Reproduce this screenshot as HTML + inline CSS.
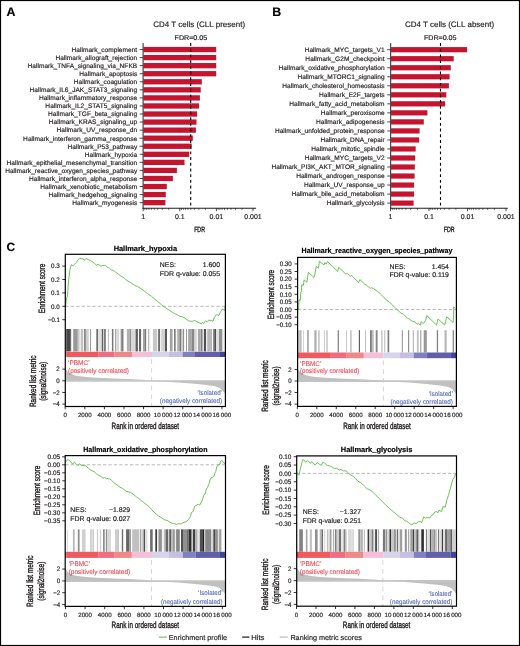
<!DOCTYPE html>
<html><head><meta charset="utf-8"><style>
html,body{margin:0;padding:0;background:#fff;width:520px;height:646px;overflow:hidden}
svg{display:block;will-change:transform}
text{font-family:"Liberation Sans", sans-serif;text-rendering:geometricPrecision}
</style></head><body>
<svg xmlns="http://www.w3.org/2000/svg" width="520" height="646" viewBox="0 0 520 646">
<rect x="0" y="0" width="520" height="646" fill="#fff"/>
<text transform="translate(6.60 16.40) scale(0.10000 0.10000)" font-size="124.0" text-anchor="start" fill="#000" font-weight="bold" stroke="#000" stroke-width="1.80" >A</text>
<text transform="translate(272.30 16.30) scale(0.10000 0.10000)" font-size="124.0" text-anchor="start" fill="#000" font-weight="bold" stroke="#000" stroke-width="1.80" >B</text>
<text transform="translate(6.60 251.40) scale(0.10000 0.10000)" font-size="120.0" text-anchor="start" fill="#000" font-weight="bold" stroke="#000" stroke-width="1.80" >C</text>
<rect x="143.50" y="46.90" width="72.70" height="5.30" fill="#c5142f"/>
<line x1="139.60" y1="49.55" x2="143.10" y2="49.55" stroke="#231f20" stroke-width="0.8" />
<text transform="translate(137.20 51.90) scale(0.10000 0.10000)" font-size="66.0" text-anchor="end" fill="#231f20" stroke="#231f20" stroke-width="1.80" >Hallmark_complement</text>
<rect x="143.50" y="54.96" width="72.70" height="5.30" fill="#c5142f"/>
<line x1="139.60" y1="57.61" x2="143.10" y2="57.61" stroke="#231f20" stroke-width="0.8" />
<text transform="translate(137.20 59.96) scale(0.10000 0.10000)" font-size="66.0" text-anchor="end" fill="#231f20" stroke="#231f20" stroke-width="1.80" >Hallmark_allograft_rejection</text>
<rect x="143.50" y="63.02" width="72.70" height="5.30" fill="#c5142f"/>
<line x1="139.60" y1="65.67" x2="143.10" y2="65.67" stroke="#231f20" stroke-width="0.8" />
<text transform="translate(137.20 68.02) scale(0.10000 0.10000)" font-size="66.0" text-anchor="end" fill="#231f20" stroke="#231f20" stroke-width="1.80" >Hallmark_TNFA_signaling_via_NFKB</text>
<rect x="143.50" y="71.07" width="72.70" height="5.30" fill="#c5142f"/>
<line x1="139.60" y1="73.72" x2="143.10" y2="73.72" stroke="#231f20" stroke-width="0.8" />
<text transform="translate(137.20 76.07) scale(0.10000 0.10000)" font-size="66.0" text-anchor="end" fill="#231f20" stroke="#231f20" stroke-width="1.80" >Hallmark_apoptosis</text>
<rect x="143.50" y="79.13" width="58.30" height="5.30" fill="#c5142f"/>
<line x1="139.60" y1="81.78" x2="143.10" y2="81.78" stroke="#231f20" stroke-width="0.8" />
<text transform="translate(137.20 84.13) scale(0.10000 0.10000)" font-size="66.0" text-anchor="end" fill="#231f20" stroke="#231f20" stroke-width="1.80" >Hallmark_coagulation</text>
<rect x="143.50" y="87.19" width="57.20" height="5.30" fill="#c5142f"/>
<line x1="139.60" y1="89.84" x2="143.10" y2="89.84" stroke="#231f20" stroke-width="0.8" />
<text transform="translate(137.20 92.19) scale(0.10000 0.10000)" font-size="66.0" text-anchor="end" fill="#231f20" stroke="#231f20" stroke-width="1.80" >Hallmark_IL6_JAK_STAT3_signaling</text>
<rect x="143.50" y="95.25" width="56.40" height="5.30" fill="#c5142f"/>
<line x1="139.60" y1="97.90" x2="143.10" y2="97.90" stroke="#231f20" stroke-width="0.8" />
<text transform="translate(137.20 100.25) scale(0.10000 0.10000)" font-size="66.0" text-anchor="end" fill="#231f20" stroke="#231f20" stroke-width="1.80" >Hallmark_inflammatory_response</text>
<rect x="143.50" y="103.31" width="55.50" height="5.30" fill="#c5142f"/>
<line x1="139.60" y1="105.96" x2="143.10" y2="105.96" stroke="#231f20" stroke-width="0.8" />
<text transform="translate(137.20 108.31) scale(0.10000 0.10000)" font-size="66.0" text-anchor="end" fill="#231f20" stroke="#231f20" stroke-width="1.80" >Hallmark_IL2_STAT5_signaling</text>
<rect x="143.50" y="111.36" width="53.60" height="5.30" fill="#c5142f"/>
<line x1="139.60" y1="114.01" x2="143.10" y2="114.01" stroke="#231f20" stroke-width="0.8" />
<text transform="translate(137.20 116.36) scale(0.10000 0.10000)" font-size="66.0" text-anchor="end" fill="#231f20" stroke="#231f20" stroke-width="1.80" >Hallmark_TGF_beta_signaling</text>
<rect x="143.50" y="119.42" width="53.00" height="5.30" fill="#c5142f"/>
<line x1="139.60" y1="122.07" x2="143.10" y2="122.07" stroke="#231f20" stroke-width="0.8" />
<text transform="translate(137.20 124.42) scale(0.10000 0.10000)" font-size="66.0" text-anchor="end" fill="#231f20" stroke="#231f20" stroke-width="1.80" >Hallmark_KRAS_signaling_up</text>
<rect x="143.50" y="127.48" width="52.40" height="5.30" fill="#c5142f"/>
<line x1="139.60" y1="130.13" x2="143.10" y2="130.13" stroke="#231f20" stroke-width="0.8" />
<text transform="translate(137.20 132.48) scale(0.10000 0.10000)" font-size="66.0" text-anchor="end" fill="#231f20" stroke="#231f20" stroke-width="1.80" >Hallmark_UV_response_dn</text>
<rect x="143.50" y="135.54" width="49.30" height="5.30" fill="#c5142f"/>
<line x1="139.60" y1="138.19" x2="143.10" y2="138.19" stroke="#231f20" stroke-width="0.8" />
<text transform="translate(137.20 140.54) scale(0.10000 0.10000)" font-size="66.0" text-anchor="end" fill="#231f20" stroke="#231f20" stroke-width="1.80" >Hallmark_interferon_gamma_response</text>
<rect x="143.50" y="143.60" width="48.20" height="5.30" fill="#c5142f"/>
<line x1="139.60" y1="146.25" x2="143.10" y2="146.25" stroke="#231f20" stroke-width="0.8" />
<text transform="translate(137.20 148.60) scale(0.10000 0.10000)" font-size="66.0" text-anchor="end" fill="#231f20" stroke="#231f20" stroke-width="1.80" >Hallmark_P53_pathway</text>
<rect x="143.50" y="151.65" width="45.70" height="5.30" fill="#c5142f"/>
<line x1="139.60" y1="154.30" x2="143.10" y2="154.30" stroke="#231f20" stroke-width="0.8" />
<text transform="translate(137.20 156.65) scale(0.10000 0.10000)" font-size="66.0" text-anchor="end" fill="#231f20" stroke="#231f20" stroke-width="1.80" >Hallmark_hypoxia</text>
<rect x="143.50" y="159.71" width="41.00" height="5.30" fill="#c5142f"/>
<line x1="139.60" y1="162.36" x2="143.10" y2="162.36" stroke="#231f20" stroke-width="0.8" />
<text transform="translate(137.20 164.71) scale(0.10000 0.10000)" font-size="66.0" text-anchor="end" fill="#231f20" stroke="#231f20" stroke-width="1.80" >Hallmark_epithelial_mesenchymal_transition</text>
<rect x="143.50" y="167.77" width="33.40" height="5.30" fill="#c5142f"/>
<line x1="139.60" y1="170.42" x2="143.10" y2="170.42" stroke="#231f20" stroke-width="0.8" />
<text transform="translate(137.20 172.77) scale(0.10000 0.10000)" font-size="66.0" text-anchor="end" fill="#231f20" stroke="#231f20" stroke-width="1.80" >Hallmark_reactive_oxygen_species_pathway</text>
<rect x="143.50" y="175.83" width="29.40" height="5.30" fill="#c5142f"/>
<line x1="139.60" y1="178.48" x2="143.10" y2="178.48" stroke="#231f20" stroke-width="0.8" />
<text transform="translate(137.20 180.83) scale(0.10000 0.10000)" font-size="66.0" text-anchor="end" fill="#231f20" stroke="#231f20" stroke-width="1.80" >Hallmark_interferon_alpha_response</text>
<rect x="143.50" y="183.89" width="23.30" height="5.30" fill="#c5142f"/>
<line x1="139.60" y1="186.54" x2="143.10" y2="186.54" stroke="#231f20" stroke-width="0.8" />
<text transform="translate(137.20 188.89) scale(0.10000 0.10000)" font-size="66.0" text-anchor="end" fill="#231f20" stroke="#231f20" stroke-width="1.80" >Hallmark_xenobiotic_metabolism</text>
<rect x="143.50" y="191.94" width="22.30" height="5.30" fill="#c5142f"/>
<line x1="139.60" y1="194.59" x2="143.10" y2="194.59" stroke="#231f20" stroke-width="0.8" />
<text transform="translate(137.20 196.94) scale(0.10000 0.10000)" font-size="66.0" text-anchor="end" fill="#231f20" stroke="#231f20" stroke-width="1.80" >Hallmark_hedgehog_signaling</text>
<rect x="143.50" y="200.00" width="21.90" height="5.30" fill="#c5142f"/>
<line x1="139.60" y1="202.65" x2="143.10" y2="202.65" stroke="#231f20" stroke-width="0.8" />
<text transform="translate(137.20 205.00) scale(0.10000 0.10000)" font-size="66.0" text-anchor="end" fill="#231f20" stroke="#231f20" stroke-width="1.80" >Hallmark_myogenesis</text>
<line x1="143.10" y1="43.10" x2="143.10" y2="208.50" stroke="#231f20" stroke-width="1.0" />
<line x1="142.60" y1="208.30" x2="256.00" y2="208.30" stroke="#231f20" stroke-width="1.1" />
<line x1="190.70" y1="43.10" x2="190.70" y2="207.50" stroke="#000" stroke-width="1.1" stroke-dasharray="2.9 2.8"/>
<line x1="143.20" y1="208.00" x2="143.20" y2="211.20" stroke="#231f20" stroke-width="0.8" />
<text transform="translate(143.20 219.30) scale(0.10000 0.10000)" font-size="70.0" text-anchor="middle" fill="#231f20" stroke="#231f20" stroke-width="1.80" >1</text>
<line x1="168.78" y1="208.00" x2="168.78" y2="210.10" stroke="#231f20" stroke-width="0.6" />
<line x1="162.34" y1="208.00" x2="162.34" y2="210.10" stroke="#231f20" stroke-width="0.6" />
<line x1="157.76" y1="208.00" x2="157.76" y2="210.10" stroke="#231f20" stroke-width="0.6" />
<line x1="154.22" y1="208.00" x2="154.22" y2="210.10" stroke="#231f20" stroke-width="0.6" />
<line x1="151.32" y1="208.00" x2="151.32" y2="210.10" stroke="#231f20" stroke-width="0.6" />
<line x1="148.87" y1="208.00" x2="148.87" y2="210.10" stroke="#231f20" stroke-width="0.6" />
<line x1="146.75" y1="208.00" x2="146.75" y2="210.10" stroke="#231f20" stroke-width="0.6" />
<line x1="144.87" y1="208.00" x2="144.87" y2="210.10" stroke="#231f20" stroke-width="0.6" />
<line x1="179.80" y1="208.00" x2="179.80" y2="211.20" stroke="#231f20" stroke-width="0.8" />
<text transform="translate(179.80 219.30) scale(0.10000 0.10000)" font-size="70.0" text-anchor="middle" fill="#231f20" stroke="#231f20" stroke-width="1.80" >0.1</text>
<line x1="205.38" y1="208.00" x2="205.38" y2="210.10" stroke="#231f20" stroke-width="0.6" />
<line x1="198.94" y1="208.00" x2="198.94" y2="210.10" stroke="#231f20" stroke-width="0.6" />
<line x1="194.36" y1="208.00" x2="194.36" y2="210.10" stroke="#231f20" stroke-width="0.6" />
<line x1="190.82" y1="208.00" x2="190.82" y2="210.10" stroke="#231f20" stroke-width="0.6" />
<line x1="187.92" y1="208.00" x2="187.92" y2="210.10" stroke="#231f20" stroke-width="0.6" />
<line x1="185.47" y1="208.00" x2="185.47" y2="210.10" stroke="#231f20" stroke-width="0.6" />
<line x1="183.35" y1="208.00" x2="183.35" y2="210.10" stroke="#231f20" stroke-width="0.6" />
<line x1="181.47" y1="208.00" x2="181.47" y2="210.10" stroke="#231f20" stroke-width="0.6" />
<line x1="216.40" y1="208.00" x2="216.40" y2="211.20" stroke="#231f20" stroke-width="0.8" />
<text transform="translate(216.40 219.30) scale(0.10000 0.10000)" font-size="70.0" text-anchor="middle" fill="#231f20" stroke="#231f20" stroke-width="1.80" >0.01</text>
<line x1="241.98" y1="208.00" x2="241.98" y2="210.10" stroke="#231f20" stroke-width="0.6" />
<line x1="235.54" y1="208.00" x2="235.54" y2="210.10" stroke="#231f20" stroke-width="0.6" />
<line x1="230.96" y1="208.00" x2="230.96" y2="210.10" stroke="#231f20" stroke-width="0.6" />
<line x1="227.42" y1="208.00" x2="227.42" y2="210.10" stroke="#231f20" stroke-width="0.6" />
<line x1="224.52" y1="208.00" x2="224.52" y2="210.10" stroke="#231f20" stroke-width="0.6" />
<line x1="222.07" y1="208.00" x2="222.07" y2="210.10" stroke="#231f20" stroke-width="0.6" />
<line x1="219.95" y1="208.00" x2="219.95" y2="210.10" stroke="#231f20" stroke-width="0.6" />
<line x1="218.07" y1="208.00" x2="218.07" y2="210.10" stroke="#231f20" stroke-width="0.6" />
<line x1="253.00" y1="208.00" x2="253.00" y2="211.20" stroke="#231f20" stroke-width="0.8" />
<text transform="translate(253.00 219.30) scale(0.10000 0.10000)" font-size="70.0" text-anchor="middle" fill="#231f20" stroke="#231f20" stroke-width="1.80" >0.001</text>
<text transform="translate(199.10 27.30) scale(0.10000 0.10000)" font-size="80.0" text-anchor="middle" fill="#231f20" stroke="#231f20" stroke-width="1.80" >CD4 T cells (CLL present)</text>
<text transform="translate(190.90 39.70) scale(0.10304 0.10000)" font-size="69.0" text-anchor="middle" fill="#231f20" stroke="#231f20" stroke-width="1.80" >FDR=0.05</text>
<text transform="translate(199.55 231.50) scale(0.06737 0.10000)" font-size="78.0" text-anchor="middle" fill="#231f20" stroke="#231f20" stroke-width="4.00" >FDR</text>
<rect x="391.10" y="47.10" width="76.00" height="5.20" fill="#c5142f"/>
<line x1="387.20" y1="49.70" x2="390.70" y2="49.70" stroke="#231f20" stroke-width="0.8" />
<text transform="translate(384.60 52.05) scale(0.10000 0.10000)" font-size="66.0" text-anchor="end" fill="#231f20" stroke="#231f20" stroke-width="1.80" >Hallmark_MYC_targets_V1</text>
<rect x="391.10" y="56.12" width="62.60" height="5.20" fill="#c5142f"/>
<line x1="387.20" y1="58.72" x2="390.70" y2="58.72" stroke="#231f20" stroke-width="0.8" />
<text transform="translate(384.60 61.07) scale(0.10000 0.10000)" font-size="66.0" text-anchor="end" fill="#231f20" stroke="#231f20" stroke-width="1.80" >Hallmark_G2M_checkpoint</text>
<rect x="391.10" y="65.15" width="59.70" height="5.20" fill="#c5142f"/>
<line x1="387.20" y1="67.75" x2="390.70" y2="67.75" stroke="#231f20" stroke-width="0.8" />
<text transform="translate(384.60 70.10) scale(0.10000 0.10000)" font-size="66.0" text-anchor="end" fill="#231f20" stroke="#231f20" stroke-width="1.80" >Hallmark_oxidative_phosphorylation</text>
<rect x="391.10" y="74.17" width="58.50" height="5.20" fill="#c5142f"/>
<line x1="387.20" y1="76.77" x2="390.70" y2="76.77" stroke="#231f20" stroke-width="0.8" />
<text transform="translate(384.60 79.12) scale(0.10000 0.10000)" font-size="66.0" text-anchor="end" fill="#231f20" stroke="#231f20" stroke-width="1.80" >Hallmark_MTORC1_signaling</text>
<rect x="391.10" y="83.20" width="57.80" height="5.20" fill="#c5142f"/>
<line x1="387.20" y1="85.80" x2="390.70" y2="85.80" stroke="#231f20" stroke-width="0.8" />
<text transform="translate(384.60 88.15) scale(0.10000 0.10000)" font-size="66.0" text-anchor="end" fill="#231f20" stroke="#231f20" stroke-width="1.80" >Hallmark_cholesterol_homeostasis</text>
<rect x="391.10" y="92.22" width="55.20" height="5.20" fill="#c5142f"/>
<line x1="387.20" y1="94.82" x2="390.70" y2="94.82" stroke="#231f20" stroke-width="0.8" />
<text transform="translate(384.60 97.17) scale(0.10000 0.10000)" font-size="66.0" text-anchor="end" fill="#231f20" stroke="#231f20" stroke-width="1.80" >Hallmark_E2F_targets</text>
<rect x="391.10" y="101.24" width="54.00" height="5.20" fill="#c5142f"/>
<line x1="387.20" y1="103.84" x2="390.70" y2="103.84" stroke="#231f20" stroke-width="0.8" />
<text transform="translate(384.60 106.19) scale(0.10000 0.10000)" font-size="66.0" text-anchor="end" fill="#231f20" stroke="#231f20" stroke-width="1.80" >Hallmark_fatty_acid_metabolism</text>
<rect x="391.10" y="110.27" width="36.30" height="5.20" fill="#c5142f"/>
<line x1="387.20" y1="112.87" x2="390.70" y2="112.87" stroke="#231f20" stroke-width="0.8" />
<text transform="translate(384.60 115.22) scale(0.10000 0.10000)" font-size="66.0" text-anchor="end" fill="#231f20" stroke="#231f20" stroke-width="1.80" >Hallmark_peroxisome</text>
<rect x="391.10" y="119.29" width="32.70" height="5.20" fill="#c5142f"/>
<line x1="387.20" y1="121.89" x2="390.70" y2="121.89" stroke="#231f20" stroke-width="0.8" />
<text transform="translate(384.60 124.24) scale(0.10000 0.10000)" font-size="66.0" text-anchor="end" fill="#231f20" stroke="#231f20" stroke-width="1.80" >Hallmark_adipogenesis</text>
<rect x="391.10" y="128.32" width="28.50" height="5.20" fill="#c5142f"/>
<line x1="387.20" y1="130.92" x2="390.70" y2="130.92" stroke="#231f20" stroke-width="0.8" />
<text transform="translate(384.60 133.27) scale(0.10000 0.10000)" font-size="66.0" text-anchor="end" fill="#231f20" stroke="#231f20" stroke-width="1.80" >Hallmark_unfolded_protein_response</text>
<rect x="391.10" y="137.34" width="28.00" height="5.20" fill="#c5142f"/>
<line x1="387.20" y1="139.94" x2="390.70" y2="139.94" stroke="#231f20" stroke-width="0.8" />
<text transform="translate(384.60 142.29) scale(0.10000 0.10000)" font-size="66.0" text-anchor="end" fill="#231f20" stroke="#231f20" stroke-width="1.80" >Hallmark_DNA_repair</text>
<rect x="391.10" y="146.36" width="24.60" height="5.20" fill="#c5142f"/>
<line x1="387.20" y1="148.96" x2="390.70" y2="148.96" stroke="#231f20" stroke-width="0.8" />
<text transform="translate(384.60 151.31) scale(0.10000 0.10000)" font-size="66.0" text-anchor="end" fill="#231f20" stroke="#231f20" stroke-width="1.80" >Hallmark_mitotic_spindle</text>
<rect x="391.10" y="155.39" width="24.00" height="5.20" fill="#c5142f"/>
<line x1="387.20" y1="157.99" x2="390.70" y2="157.99" stroke="#231f20" stroke-width="0.8" />
<text transform="translate(384.60 160.34) scale(0.10000 0.10000)" font-size="66.0" text-anchor="end" fill="#231f20" stroke="#231f20" stroke-width="1.80" >Hallmark_MYC_targets_V2</text>
<rect x="391.10" y="164.41" width="23.70" height="5.20" fill="#c5142f"/>
<line x1="387.20" y1="167.01" x2="390.70" y2="167.01" stroke="#231f20" stroke-width="0.8" />
<text transform="translate(384.60 169.36) scale(0.10000 0.10000)" font-size="66.0" text-anchor="end" fill="#231f20" stroke="#231f20" stroke-width="1.80" >Hallmark_PI3K_AKT_MTOR_signaling</text>
<rect x="391.10" y="173.44" width="23.50" height="5.20" fill="#c5142f"/>
<line x1="387.20" y1="176.04" x2="390.70" y2="176.04" stroke="#231f20" stroke-width="0.8" />
<text transform="translate(384.60 178.39) scale(0.10000 0.10000)" font-size="66.0" text-anchor="end" fill="#231f20" stroke="#231f20" stroke-width="1.80" >Hallmark_androgen_response</text>
<rect x="391.10" y="182.46" width="23.00" height="5.20" fill="#c5142f"/>
<line x1="387.20" y1="185.06" x2="390.70" y2="185.06" stroke="#231f20" stroke-width="0.8" />
<text transform="translate(384.60 187.41) scale(0.10000 0.10000)" font-size="66.0" text-anchor="end" fill="#231f20" stroke="#231f20" stroke-width="1.80" >Hallmark_UV_response_up</text>
<rect x="391.10" y="191.48" width="23.00" height="5.20" fill="#c5142f"/>
<line x1="387.20" y1="194.08" x2="390.70" y2="194.08" stroke="#231f20" stroke-width="0.8" />
<text transform="translate(384.60 196.43) scale(0.10000 0.10000)" font-size="66.0" text-anchor="end" fill="#231f20" stroke="#231f20" stroke-width="1.80" >Hallmark_bile_acid_metabolism</text>
<rect x="391.10" y="200.51" width="22.50" height="5.20" fill="#c5142f"/>
<line x1="387.20" y1="203.11" x2="390.70" y2="203.11" stroke="#231f20" stroke-width="0.8" />
<text transform="translate(384.60 205.46) scale(0.10000 0.10000)" font-size="66.0" text-anchor="end" fill="#231f20" stroke="#231f20" stroke-width="1.80" >Hallmark_glycolysis</text>
<line x1="390.70" y1="43.10" x2="390.70" y2="208.50" stroke="#231f20" stroke-width="1.0" />
<line x1="390.20" y1="208.30" x2="507.80" y2="208.30" stroke="#231f20" stroke-width="1.1" />
<line x1="440.50" y1="43.10" x2="440.50" y2="207.50" stroke="#000" stroke-width="1.1" stroke-dasharray="2.9 2.8"/>
<line x1="390.50" y1="208.00" x2="390.50" y2="211.20" stroke="#231f20" stroke-width="0.8" />
<text transform="translate(390.50 219.30) scale(0.10000 0.10000)" font-size="70.0" text-anchor="middle" fill="#231f20" stroke="#231f20" stroke-width="1.80" >1</text>
<line x1="417.41" y1="208.00" x2="417.41" y2="210.10" stroke="#231f20" stroke-width="0.6" />
<line x1="410.63" y1="208.00" x2="410.63" y2="210.10" stroke="#231f20" stroke-width="0.6" />
<line x1="405.82" y1="208.00" x2="405.82" y2="210.10" stroke="#231f20" stroke-width="0.6" />
<line x1="402.09" y1="208.00" x2="402.09" y2="210.10" stroke="#231f20" stroke-width="0.6" />
<line x1="399.04" y1="208.00" x2="399.04" y2="210.10" stroke="#231f20" stroke-width="0.6" />
<line x1="396.46" y1="208.00" x2="396.46" y2="210.10" stroke="#231f20" stroke-width="0.6" />
<line x1="394.23" y1="208.00" x2="394.23" y2="210.10" stroke="#231f20" stroke-width="0.6" />
<line x1="392.26" y1="208.00" x2="392.26" y2="210.10" stroke="#231f20" stroke-width="0.6" />
<line x1="429.00" y1="208.00" x2="429.00" y2="211.20" stroke="#231f20" stroke-width="0.8" />
<text transform="translate(429.00 219.30) scale(0.10000 0.10000)" font-size="70.0" text-anchor="middle" fill="#231f20" stroke="#231f20" stroke-width="1.80" >0.1</text>
<line x1="455.91" y1="208.00" x2="455.91" y2="210.10" stroke="#231f20" stroke-width="0.6" />
<line x1="449.13" y1="208.00" x2="449.13" y2="210.10" stroke="#231f20" stroke-width="0.6" />
<line x1="444.32" y1="208.00" x2="444.32" y2="210.10" stroke="#231f20" stroke-width="0.6" />
<line x1="440.59" y1="208.00" x2="440.59" y2="210.10" stroke="#231f20" stroke-width="0.6" />
<line x1="437.54" y1="208.00" x2="437.54" y2="210.10" stroke="#231f20" stroke-width="0.6" />
<line x1="434.96" y1="208.00" x2="434.96" y2="210.10" stroke="#231f20" stroke-width="0.6" />
<line x1="432.73" y1="208.00" x2="432.73" y2="210.10" stroke="#231f20" stroke-width="0.6" />
<line x1="430.76" y1="208.00" x2="430.76" y2="210.10" stroke="#231f20" stroke-width="0.6" />
<line x1="467.50" y1="208.00" x2="467.50" y2="211.20" stroke="#231f20" stroke-width="0.8" />
<text transform="translate(467.50 219.30) scale(0.10000 0.10000)" font-size="70.0" text-anchor="middle" fill="#231f20" stroke="#231f20" stroke-width="1.80" >0.01</text>
<line x1="494.41" y1="208.00" x2="494.41" y2="210.10" stroke="#231f20" stroke-width="0.6" />
<line x1="487.63" y1="208.00" x2="487.63" y2="210.10" stroke="#231f20" stroke-width="0.6" />
<line x1="482.82" y1="208.00" x2="482.82" y2="210.10" stroke="#231f20" stroke-width="0.6" />
<line x1="479.09" y1="208.00" x2="479.09" y2="210.10" stroke="#231f20" stroke-width="0.6" />
<line x1="476.04" y1="208.00" x2="476.04" y2="210.10" stroke="#231f20" stroke-width="0.6" />
<line x1="473.46" y1="208.00" x2="473.46" y2="210.10" stroke="#231f20" stroke-width="0.6" />
<line x1="471.23" y1="208.00" x2="471.23" y2="210.10" stroke="#231f20" stroke-width="0.6" />
<line x1="469.26" y1="208.00" x2="469.26" y2="210.10" stroke="#231f20" stroke-width="0.6" />
<line x1="506.00" y1="208.00" x2="506.00" y2="211.20" stroke="#231f20" stroke-width="0.8" />
<text transform="translate(506.00 219.30) scale(0.10000 0.10000)" font-size="70.0" text-anchor="middle" fill="#231f20" stroke="#231f20" stroke-width="1.80" >0.001</text>
<text transform="translate(449.50 27.30) scale(0.10000 0.10000)" font-size="80.0" text-anchor="middle" fill="#231f20" stroke="#231f20" stroke-width="1.80" >CD4 T cells (CLL absent)</text>
<text transform="translate(440.20 39.70) scale(0.10304 0.10000)" font-size="69.0" text-anchor="middle" fill="#231f20" stroke="#231f20" stroke-width="1.80" >FDR=0.05</text>
<text transform="translate(449.25 231.50) scale(0.06737 0.10000)" font-size="78.0" text-anchor="middle" fill="#231f20" stroke="#231f20" stroke-width="4.00" >FDR</text>
<text transform="translate(145.35 250.80) scale(0.10010 0.10000)" font-size="74.0" text-anchor="middle" fill="#000" font-weight="bold" stroke="#000" stroke-width="1.80" >Hallmark_hypoxia</text>
<line x1="65.30" y1="306.30" x2="225.40" y2="306.30" stroke="#acacac" stroke-width="0.85" stroke-dasharray="3.4 2.0"/>
<rect x="66.00" y="329.00" width="0.90" height="22.50" fill="#606060"/>
<rect x="66.90" y="329.00" width="4.00" height="22.50" fill="#484848"/>
<rect x="70.90" y="329.00" width="0.90" height="22.50" fill="#e0e0e0"/>
<rect x="73.20" y="329.00" width="4.60" height="22.50" fill="#989898"/>
<rect x="77.80" y="329.00" width="1.80" height="22.50" fill="#c8c8c8"/>
<rect x="80.70" y="329.00" width="2.30" height="22.50" fill="#c0c0c0"/>
<rect x="83.90" y="329.00" width="2.00" height="22.50" fill="#888888"/>
<rect x="85.90" y="329.00" width="2.90" height="22.50" fill="#d0d0d0"/>
<rect x="90.00" y="329.00" width="1.10" height="22.50" fill="#a0a0a0"/>
<rect x="96.30" y="329.00" width="1.80" height="22.50" fill="#707070"/>
<rect x="98.10" y="329.00" width="3.70" height="22.50" fill="#e0e0e0"/>
<rect x="101.80" y="329.00" width="1.50" height="22.50" fill="#606060"/>
<rect x="103.30" y="329.00" width="0.80" height="22.50" fill="#d0d0d0"/>
<rect x="104.10" y="329.00" width="1.70" height="22.50" fill="#707070"/>
<rect x="107.90" y="329.00" width="1.10" height="22.50" fill="#c0c0c0"/>
<rect x="111.90" y="329.00" width="1.50" height="22.50" fill="#787878"/>
<rect x="115.10" y="329.00" width="1.10" height="22.50" fill="#a0a0a0"/>
<rect x="116.20" y="329.00" width="2.90" height="22.50" fill="#d8d8d8"/>
<rect x="120.00" y="329.00" width="0.90" height="22.50" fill="#e0e0e0"/>
<rect x="120.90" y="329.00" width="0.30" height="22.50" fill="#a0a0a0"/>
<rect x="121.20" y="329.00" width="2.30" height="22.50" fill="#808080"/>
<rect x="126.90" y="329.00" width="2.90" height="22.50" fill="#b0b0b0"/>
<rect x="129.80" y="329.00" width="1.20" height="22.50" fill="#909090"/>
<rect x="131.00" y="329.00" width="4.60" height="22.50" fill="#d8d8d8"/>
<rect x="135.60" y="329.00" width="2.30" height="22.50" fill="#606060"/>
<rect x="139.00" y="329.00" width="2.10" height="22.50" fill="#686868"/>
<rect x="143.10" y="329.00" width="1.40" height="22.50" fill="#989898"/>
<rect x="144.50" y="329.00" width="1.50" height="22.50" fill="#787878"/>
<rect x="146.00" y="329.00" width="1.00" height="22.50" fill="#e8e8e8"/>
<rect x="148.00" y="329.00" width="1.20" height="22.50" fill="#b8b8b8"/>
<rect x="149.20" y="329.00" width="1.10" height="22.50" fill="#e8e8e8"/>
<rect x="152.90" y="329.00" width="4.30" height="22.50" fill="#c8c8c8"/>
<rect x="158.10" y="329.00" width="2.00" height="22.50" fill="#707070"/>
<rect x="161.30" y="329.00" width="3.70" height="22.50" fill="#d0d0d0"/>
<rect x="165.00" y="329.00" width="2.00" height="22.50" fill="#585858"/>
<rect x="169.90" y="329.00" width="2.60" height="22.50" fill="#a0a0a0"/>
<rect x="174.00" y="329.00" width="1.70" height="22.50" fill="#808080"/>
<rect x="176.90" y="329.00" width="0.30" height="22.50" fill="#c0c0c0"/>
<rect x="177.20" y="329.00" width="2.30" height="22.50" fill="#b0b0b0"/>
<rect x="179.50" y="329.00" width="2.00" height="22.50" fill="#787878"/>
<rect x="181.50" y="329.00" width="1.40" height="22.50" fill="#d8d8d8"/>
<rect x="182.90" y="329.00" width="1.20" height="22.50" fill="#909090"/>
<rect x="186.10" y="329.00" width="0.90" height="22.50" fill="#909090"/>
<rect x="188.10" y="329.00" width="3.40" height="22.50" fill="#a8a8a8"/>
<rect x="191.50" y="329.00" width="3.00" height="22.50" fill="#888888"/>
<rect x="194.50" y="329.00" width="2.30" height="22.50" fill="#d8d8d8"/>
<rect x="197.90" y="329.00" width="2.90" height="22.50" fill="#a8a8a8"/>
<rect x="201.20" y="329.00" width="1.40" height="22.50" fill="#606060"/>
<rect x="202.60" y="329.00" width="1.40" height="22.50" fill="#e0e0e0"/>
<rect x="204.00" y="329.00" width="2.10" height="22.50" fill="#505050"/>
<rect x="207.20" y="329.00" width="4.90" height="22.50" fill="#b8b8b8"/>
<rect x="213.30" y="329.00" width="1.50" height="22.50" fill="#606060"/>
<rect x="214.80" y="329.00" width="1.40" height="22.50" fill="#505050"/>
<rect x="216.20" y="329.00" width="2.80" height="22.50" fill="#e0e0e0"/>
<rect x="219.00" y="329.00" width="3.50" height="22.50" fill="#909090"/>
<rect x="222.50" y="329.00" width="2.30" height="22.50" fill="#f0f0f0"/>
<rect x="65.30" y="351.80" width="1.35" height="5.20" fill="#f63c42"/>
<rect x="66.60" y="351.80" width="32.05" height="5.20" fill="#f05a5f"/>
<rect x="98.60" y="351.80" width="15.95" height="5.20" fill="#f06c80"/>
<rect x="114.50" y="351.80" width="17.65" height="5.20" fill="#f28787"/>
<rect x="132.10" y="351.80" width="19.95" height="5.20" fill="#f5c0d7"/>
<rect x="152.00" y="351.80" width="16.85" height="5.20" fill="#d8d4ec"/>
<rect x="168.80" y="351.80" width="13.85" height="5.20" fill="#c6bfe2"/>
<rect x="182.60" y="351.80" width="12.45" height="5.20" fill="#8080c0"/>
<rect x="195.00" y="351.80" width="24.95" height="5.20" fill="#635eaa"/>
<rect x="219.90" y="351.80" width="4.15" height="5.20" fill="#3c4696"/>
<rect x="224.00" y="351.80" width="1.45" height="5.20" fill="#4a3a98"/>
<path d="M65.30,380.80 L65.30,367.97 L65.94,369.14 L66.90,370.77 L68.50,372.52 L70.90,374.04 L74.91,375.38 L81.31,376.49 L89.31,377.19 L97.32,377.71 L113.33,378.41 L129.34,379.05 L145.35,379.98 L151.59,380.80 L161.36,381.50 L177.37,382.43 L194.98,383.83 L208.43,385.23 L215.15,386.28 L219.80,387.91 L221.88,389.66 L223.80,392.34 L225.40,393.92 L225.40,380.80 Z" fill="#c0c0c0"/>
<line x1="65.30" y1="381.00" x2="225.40" y2="381.00" stroke="#c4c4c4" stroke-width="1.7" />
<line x1="151.60" y1="359.20" x2="151.60" y2="406.50" stroke="#cccccc" stroke-width="0.8" stroke-dasharray="4.8 4"/>
<text transform="translate(68.00 365.10) scale(0.09529 0.10000)" font-size="68.0" text-anchor="start" fill="#ec3e48" stroke="#ec3e48" stroke-width="0.80" >‘PBMC’</text>
<text transform="translate(68.00 372.70) scale(0.09440 0.10000)" font-size="68.0" text-anchor="start" fill="#ec3e48" stroke="#ec3e48" stroke-width="0.80" >(positively correlated)</text>
<text transform="translate(222.00 395.10) scale(0.09129 0.10000)" font-size="68.0" text-anchor="end" fill="#5064b6" stroke="#5064b6" stroke-width="0.80" >‘Isolated’</text>
<text transform="translate(222.00 403.00) scale(0.09246 0.10000)" font-size="68.0" text-anchor="end" fill="#5064b6" stroke="#5064b6" stroke-width="0.80" >(negatively correlated)</text>
<polyline points="65.70,306.30 66.50,297.80 67.50,296.80 68.00,287.90 68.40,283.00 68.90,278.00 69.50,273.90 69.80,270.20 70.60,267.00 71.40,264.70 72.10,265.30 73.20,265.80 74.70,264.10 76.40,262.40 77.80,260.10 79.60,258.30 81.30,258.60 83.00,258.90 84.50,260.10 85.90,258.50 88.20,259.50 90.50,260.60 92.00,261.50 94.30,263.20 96.60,265.20 98.10,264.10 99.50,265.10 101.20,266.40 102.40,265.50 105.30,265.30 107.60,267.30 109.30,268.20 111.60,270.10 113.40,270.40 115.70,272.20 118.50,274.20 120.50,275.90 123.50,277.50 126.90,280.40 130.40,282.40 133.80,284.70 136.20,286.20 137.30,286.30 140.80,288.50 144.20,291.10 147.70,293.70 151.50,296.30 154.90,299.20 158.40,302.10 161.80,305.00 165.30,307.60 168.80,309.90 172.20,312.20 174.50,313.60 176.00,314.10 178.30,315.40 180.00,316.40 181.80,316.50 184.10,317.60 186.40,319.30 188.70,320.80 191.00,321.30 192.40,321.30 193.90,320.50 195.60,321.00 197.90,322.30 199.70,322.80 201.20,324.00 202.30,322.50 203.80,323.40 205.50,320.80 207.20,321.70 208.70,320.20 211.50,320.50 213.00,321.40 214.10,317.90 215.90,315.00 217.30,314.80 218.80,315.60 220.50,311.80 222.50,309.00 224.80,310.60 225.10,306.30" fill="none" stroke="#62c04e" stroke-width="0.95" stroke-linejoin="round" />
<text transform="translate(159.80 267.00) scale(0.10000 0.10000)" font-size="69.0" text-anchor="start" fill="#231f20" stroke="#231f20" stroke-width="1.80" >NES:</text>
<text transform="translate(220.00 267.00) scale(0.10000 0.10000)" font-size="69.0" text-anchor="end" fill="#231f20" stroke="#231f20" stroke-width="1.80" >1.600</text>
<text transform="translate(159.80 275.60) scale(0.10063 0.10000)" font-size="69.0" text-anchor="start" fill="#231f20" stroke="#231f20" stroke-width="1.80" >FDR q-value: 0.055</text>
<rect x="65.30" y="254.30" width="160.10" height="152.20" fill="none" stroke="#000" stroke-width="1.2"/>
<line x1="62.30" y1="266.10" x2="65.30" y2="266.10" stroke="#000" stroke-width="0.8" />
<text transform="translate(59.70 268.40) scale(0.09780 0.10000)" font-size="64.0" text-anchor="end" fill="#231f20" stroke="#231f20" stroke-width="1.80" >0.3</text>
<line x1="62.30" y1="279.50" x2="65.30" y2="279.50" stroke="#000" stroke-width="0.8" />
<text transform="translate(59.70 281.80) scale(0.09780 0.10000)" font-size="64.0" text-anchor="end" fill="#231f20" stroke="#231f20" stroke-width="1.80" >0.2</text>
<line x1="62.30" y1="292.90" x2="65.30" y2="292.90" stroke="#000" stroke-width="0.8" />
<text transform="translate(59.70 295.20) scale(0.09780 0.10000)" font-size="64.0" text-anchor="end" fill="#231f20" stroke="#231f20" stroke-width="1.80" >0.1</text>
<line x1="62.30" y1="306.30" x2="65.30" y2="306.30" stroke="#000" stroke-width="0.8" />
<text transform="translate(59.70 308.60) scale(0.09780 0.10000)" font-size="64.0" text-anchor="end" fill="#231f20" stroke="#231f20" stroke-width="1.80" >0.0</text>
<line x1="62.30" y1="319.70" x2="65.30" y2="319.70" stroke="#000" stroke-width="0.8" />
<text transform="translate(59.70 322.00) scale(0.09340 0.10000)" font-size="64.0" text-anchor="end" fill="#231f20" stroke="#231f20" stroke-width="1.80" >−0.1</text>
<line x1="62.30" y1="369.14" x2="65.30" y2="369.14" stroke="#000" stroke-width="0.8" />
<text transform="translate(59.70 371.44) scale(0.09553 0.10000)" font-size="64.0" text-anchor="end" fill="#231f20" stroke="#231f20" stroke-width="1.80" >2</text>
<line x1="62.30" y1="380.80" x2="65.30" y2="380.80" stroke="#000" stroke-width="0.8" />
<text transform="translate(59.70 383.10) scale(0.09553 0.10000)" font-size="64.0" text-anchor="end" fill="#231f20" stroke="#231f20" stroke-width="1.80" >0</text>
<line x1="62.30" y1="392.46" x2="65.30" y2="392.46" stroke="#000" stroke-width="0.8" />
<text transform="translate(59.70 394.76) scale(0.09593 0.10000)" font-size="64.0" text-anchor="end" fill="#231f20" stroke="#231f20" stroke-width="1.80" >−2</text>
<line x1="62.30" y1="404.12" x2="65.30" y2="404.12" stroke="#000" stroke-width="0.8" />
<text transform="translate(59.70 406.42) scale(0.09593 0.10000)" font-size="64.0" text-anchor="end" fill="#231f20" stroke="#231f20" stroke-width="1.80" >−4</text>
<line x1="65.20" y1="406.50" x2="65.20" y2="409.30" stroke="#000" stroke-width="0.8" />
<text transform="translate(65.20 416.70) scale(0.09861 0.10000)" font-size="62.0" text-anchor="middle" fill="#231f20" stroke="#231f20" stroke-width="1.80" >0</text>
<line x1="84.79" y1="406.50" x2="84.79" y2="409.30" stroke="#000" stroke-width="0.8" />
<text transform="translate(84.79 416.70) scale(0.10006 0.10000)" font-size="62.0" text-anchor="middle" fill="#231f20" stroke="#231f20" stroke-width="1.80" >2000</text>
<line x1="104.38" y1="406.50" x2="104.38" y2="409.30" stroke="#000" stroke-width="0.8" />
<text transform="translate(104.38 416.70) scale(0.10006 0.10000)" font-size="62.0" text-anchor="middle" fill="#231f20" stroke="#231f20" stroke-width="1.80" >4000</text>
<line x1="123.97" y1="406.50" x2="123.97" y2="409.30" stroke="#000" stroke-width="0.8" />
<text transform="translate(123.97 416.70) scale(0.10006 0.10000)" font-size="62.0" text-anchor="middle" fill="#231f20" stroke="#231f20" stroke-width="1.80" >6000</text>
<line x1="143.56" y1="406.50" x2="143.56" y2="409.30" stroke="#000" stroke-width="0.8" />
<text transform="translate(143.56 416.70) scale(0.10006 0.10000)" font-size="62.0" text-anchor="middle" fill="#231f20" stroke="#231f20" stroke-width="1.80" >8000</text>
<line x1="163.15" y1="406.50" x2="163.15" y2="409.30" stroke="#000" stroke-width="0.8" />
<text transform="translate(163.15 416.70) scale(0.10065 0.10000)" font-size="62.0" text-anchor="middle" fill="#231f20" stroke="#231f20" stroke-width="1.80" >10 000</text>
<line x1="182.74" y1="406.50" x2="182.74" y2="409.30" stroke="#000" stroke-width="0.8" />
<text transform="translate(182.74 416.70) scale(0.10065 0.10000)" font-size="62.0" text-anchor="middle" fill="#231f20" stroke="#231f20" stroke-width="1.80" >12 000</text>
<line x1="202.33" y1="406.50" x2="202.33" y2="409.30" stroke="#000" stroke-width="0.8" />
<text transform="translate(202.33 416.70) scale(0.10065 0.10000)" font-size="62.0" text-anchor="middle" fill="#231f20" stroke="#231f20" stroke-width="1.80" >14 000</text>
<line x1="221.92" y1="406.50" x2="221.92" y2="409.30" stroke="#000" stroke-width="0.8" />
<text transform="translate(221.92 416.70) scale(0.10065 0.10000)" font-size="62.0" text-anchor="middle" fill="#231f20" stroke="#231f20" stroke-width="1.80" >16 000</text>
<text transform="translate(145.35 428.70) scale(0.06875 0.10000)" font-size="92.0" text-anchor="middle" fill="#231f20" stroke="#231f20" stroke-width="4.00" >Rank in ordered dataset</text>
<text transform="translate(45.40 288.50) rotate(-90) scale(0.06915 0.10000)" font-size="92.0" text-anchor="middle" fill="#231f20" stroke="#231f20" stroke-width="4.00" >Enrichment score</text>
<text transform="translate(36.10 381.30) rotate(-90) scale(0.07058 0.10000)" font-size="92.0" text-anchor="middle" fill="#231f20" stroke="#231f20" stroke-width="4.00" >Ranked list metric</text>
<text transform="translate(46.30 381.30) rotate(-90) scale(0.06810 0.10000)" font-size="92.0" text-anchor="middle" fill="#231f20" stroke="#231f20" stroke-width="4.00" >(signal2noise)</text>
<text transform="translate(377.00 252.80) scale(0.09523 0.10000)" font-size="74.0" text-anchor="middle" fill="#000" font-weight="bold" stroke="#000" stroke-width="1.80" >Hallmark_reactive_oxygen_species_pathway</text>
<line x1="297.60" y1="309.50" x2="456.40" y2="309.50" stroke="#acacac" stroke-width="0.85" stroke-dasharray="3.4 2.0"/>
<rect x="298.20" y="330.20" width="1.50" height="22.30" fill="#c0c0c0"/>
<rect x="299.70" y="330.20" width="1.90" height="22.30" fill="#b8b8b8"/>
<rect x="303.20" y="330.20" width="0.70" height="22.30" fill="#c0c0c0"/>
<rect x="307.00" y="330.20" width="1.90" height="22.30" fill="#b0b0b0"/>
<rect x="314.30" y="330.20" width="2.30" height="22.30" fill="#b0b0b0"/>
<rect x="318.20" y="330.20" width="1.50" height="22.30" fill="#c0c0c0"/>
<rect x="323.90" y="330.20" width="0.80" height="22.30" fill="#b8b8b8"/>
<rect x="326.20" y="330.20" width="1.60" height="22.30" fill="#c8c8c8"/>
<rect x="337.70" y="330.20" width="1.10" height="22.30" fill="#707070"/>
<rect x="346.20" y="330.20" width="0.70" height="22.30" fill="#b0b0b0"/>
<rect x="350.40" y="330.20" width="1.10" height="22.30" fill="#a8a8a8"/>
<rect x="358.80" y="330.20" width="1.20" height="22.30" fill="#606060"/>
<rect x="365.00" y="330.20" width="0.80" height="22.30" fill="#b0b0b0"/>
<rect x="370.00" y="330.20" width="1.90" height="22.30" fill="#808080"/>
<rect x="371.90" y="330.20" width="1.90" height="22.30" fill="#c0c0c0"/>
<rect x="375.70" y="330.20" width="1.90" height="22.30" fill="#888888"/>
<rect x="381.10" y="330.20" width="1.50" height="22.30" fill="#c8c8c8"/>
<rect x="384.20" y="330.20" width="1.10" height="22.30" fill="#c0c0c0"/>
<rect x="387.60" y="330.20" width="1.60" height="22.30" fill="#787878"/>
<rect x="401.80" y="330.20" width="1.20" height="22.30" fill="#a0a0a0"/>
<rect x="408.00" y="330.20" width="1.20" height="22.30" fill="#909090"/>
<rect x="412.80" y="330.20" width="0.90" height="22.30" fill="#a0a0a0"/>
<rect x="416.90" y="330.20" width="1.80" height="22.30" fill="#c0c0c0"/>
<rect x="420.00" y="330.20" width="1.40" height="22.30" fill="#b0b0b0"/>
<rect x="423.70" y="330.20" width="3.10" height="22.30" fill="#989898"/>
<rect x="436.80" y="330.20" width="1.30" height="22.30" fill="#808080"/>
<rect x="444.50" y="330.20" width="2.20" height="22.30" fill="#b8b8b8"/>
<rect x="452.60" y="330.20" width="1.40" height="22.30" fill="#909090"/>
<rect x="297.60" y="352.50" width="1.25" height="5.70" fill="#f63c42"/>
<rect x="298.80" y="352.50" width="32.05" height="5.70" fill="#f05a5f"/>
<rect x="330.80" y="352.50" width="15.45" height="5.70" fill="#f06c80"/>
<rect x="346.20" y="352.50" width="17.65" height="5.70" fill="#f28787"/>
<rect x="363.80" y="352.50" width="19.65" height="5.70" fill="#f5c0d7"/>
<rect x="383.40" y="352.50" width="16.55" height="5.70" fill="#d8d4ec"/>
<rect x="399.90" y="352.50" width="13.85" height="5.70" fill="#c6bfe2"/>
<rect x="413.70" y="352.50" width="13.15" height="5.70" fill="#8080c0"/>
<rect x="426.80" y="352.50" width="24.05" height="5.70" fill="#635eaa"/>
<rect x="450.80" y="352.50" width="4.25" height="5.70" fill="#3c4696"/>
<rect x="455.00" y="352.50" width="1.45" height="5.70" fill="#4a3a98"/>
<path d="M297.60,381.00 L297.60,368.28 L298.24,369.44 L299.19,371.06 L300.78,372.79 L303.16,374.30 L307.13,375.62 L313.48,376.72 L321.42,377.42 L329.36,377.94 L345.24,378.63 L361.12,379.27 L377.00,380.19 L383.19,381.00 L392.88,381.69 L408.76,382.62 L426.23,384.01 L439.57,385.39 L446.24,386.43 L450.84,388.05 L452.91,389.79 L454.81,392.44 L456.40,394.00 L456.40,381.00 Z" fill="#c0c0c0"/>
<line x1="297.60" y1="381.20" x2="456.40" y2="381.20" stroke="#c4c4c4" stroke-width="1.7" />
<line x1="383.40" y1="360.40" x2="383.40" y2="406.40" stroke="#cccccc" stroke-width="0.8" stroke-dasharray="4.8 4"/>
<text transform="translate(300.00 365.80) scale(0.09396 0.10000)" font-size="68.0" text-anchor="start" fill="#ec3e48" stroke="#ec3e48" stroke-width="0.80" >‘PBMC’</text>
<text transform="translate(300.00 373.20) scale(0.09177 0.10000)" font-size="68.0" text-anchor="start" fill="#ec3e48" stroke="#ec3e48" stroke-width="0.80" >(positively correlated)</text>
<text transform="translate(452.80 395.80) scale(0.08980 0.10000)" font-size="68.0" text-anchor="end" fill="#5064b6" stroke="#5064b6" stroke-width="0.80" >‘Isolated’</text>
<text transform="translate(452.80 403.80) scale(0.09261 0.10000)" font-size="68.0" text-anchor="end" fill="#5064b6" stroke="#5064b6" stroke-width="0.80" >(negatively correlated)</text>
<polyline points="298.50,310.20 299.00,299.80 300.40,300.30 300.70,292.40 301.40,291.90 301.70,284.70 303.40,285.40 304.10,280.00 306.90,282.30 307.50,277.40 308.40,272.40 313.90,277.40 315.00,273.90 316.20,266.40 318.50,268.10 319.40,261.20 324.00,264.90 324.90,262.50 326.30,264.10 327.50,261.50 337.60,271.40 338.70,267.20 345.90,274.20 347.10,273.30 350.50,276.30 351.40,275.40 353.70,277.50 358.60,282.40 359.80,279.50 364.70,284.20 366.10,284.80 370.20,288.40 371.60,287.70 373.60,288.70 376.20,290.50 378.00,291.50 381.70,295.10 383.50,297.20 386.90,300.40 389.20,301.80 392.70,305.30 396.20,308.80 399.00,311.40 401.40,313.40 403.10,313.90 405.40,316.30 407.70,318.30 408.60,318.60 412.90,321.60 414.10,321.60 417.30,324.20 418.40,323.40 420.40,325.40 421.10,321.60 423.30,323.70 425.60,320.50 426.70,315.50 436.60,325.10 437.20,322.20 438.10,319.00 444.70,325.10 445.60,321.40 446.70,316.70 453.10,322.50 453.70,315.00 453.70,306.90 455.40,308.40" fill="none" stroke="#62c04e" stroke-width="0.95" stroke-linejoin="round" />
<text transform="translate(389.50 269.20) scale(0.10000 0.10000)" font-size="69.0" text-anchor="start" fill="#231f20" stroke="#231f20" stroke-width="1.80" >NES:</text>
<text transform="translate(448.90 269.20) scale(0.10000 0.10000)" font-size="69.0" text-anchor="end" fill="#231f20" stroke="#231f20" stroke-width="1.80" >1.454</text>
<text transform="translate(389.50 277.30) scale(0.10015 0.10000)" font-size="69.0" text-anchor="start" fill="#231f20" stroke="#231f20" stroke-width="1.80" >FDR q-value: 0.119</text>
<rect x="297.60" y="257.40" width="158.80" height="149.00" fill="none" stroke="#000" stroke-width="1.2"/>
<line x1="294.60" y1="263.90" x2="297.60" y2="263.90" stroke="#000" stroke-width="0.8" />
<text transform="translate(291.70 266.20) scale(0.09635 0.10000)" font-size="64.0" text-anchor="end" fill="#231f20" stroke="#231f20" stroke-width="1.80" >0.30</text>
<line x1="294.60" y1="271.50" x2="297.60" y2="271.50" stroke="#000" stroke-width="0.8" />
<text transform="translate(291.70 273.80) scale(0.09635 0.10000)" font-size="64.0" text-anchor="end" fill="#231f20" stroke="#231f20" stroke-width="1.80" >0.25</text>
<line x1="294.60" y1="279.10" x2="297.60" y2="279.10" stroke="#000" stroke-width="0.8" />
<text transform="translate(291.70 281.40) scale(0.09635 0.10000)" font-size="64.0" text-anchor="end" fill="#231f20" stroke="#231f20" stroke-width="1.80" >0.20</text>
<line x1="294.60" y1="286.70" x2="297.60" y2="286.70" stroke="#000" stroke-width="0.8" />
<text transform="translate(291.70 289.00) scale(0.09635 0.10000)" font-size="64.0" text-anchor="end" fill="#231f20" stroke="#231f20" stroke-width="1.80" >0.15</text>
<line x1="294.60" y1="294.30" x2="297.60" y2="294.30" stroke="#000" stroke-width="0.8" />
<text transform="translate(291.70 296.60) scale(0.09635 0.10000)" font-size="64.0" text-anchor="end" fill="#231f20" stroke="#231f20" stroke-width="1.80" >0.10</text>
<line x1="294.60" y1="301.90" x2="297.60" y2="301.90" stroke="#000" stroke-width="0.8" />
<text transform="translate(291.70 304.20) scale(0.09635 0.10000)" font-size="64.0" text-anchor="end" fill="#231f20" stroke="#231f20" stroke-width="1.80" >0.05</text>
<line x1="294.60" y1="309.50" x2="297.60" y2="309.50" stroke="#000" stroke-width="0.8" />
<text transform="translate(291.70 311.80) scale(0.09635 0.10000)" font-size="64.0" text-anchor="end" fill="#231f20" stroke="#231f20" stroke-width="1.80" >0.00</text>
<line x1="294.60" y1="317.10" x2="297.60" y2="317.10" stroke="#000" stroke-width="0.8" />
<text transform="translate(291.70 319.40) scale(0.09510 0.10000)" font-size="64.0" text-anchor="end" fill="#231f20" stroke="#231f20" stroke-width="1.80" >−0.05</text>
<line x1="294.60" y1="324.70" x2="297.60" y2="324.70" stroke="#000" stroke-width="0.8" />
<text transform="translate(291.70 327.00) scale(0.09510 0.10000)" font-size="64.0" text-anchor="end" fill="#231f20" stroke="#231f20" stroke-width="1.80" >−0.10</text>
<line x1="294.60" y1="369.44" x2="297.60" y2="369.44" stroke="#000" stroke-width="0.8" />
<text transform="translate(291.70 371.74) scale(0.09553 0.10000)" font-size="64.0" text-anchor="end" fill="#231f20" stroke="#231f20" stroke-width="1.80" >2</text>
<line x1="294.60" y1="381.00" x2="297.60" y2="381.00" stroke="#000" stroke-width="0.8" />
<text transform="translate(291.70 383.30) scale(0.09553 0.10000)" font-size="64.0" text-anchor="end" fill="#231f20" stroke="#231f20" stroke-width="1.80" >0</text>
<line x1="294.60" y1="392.56" x2="297.60" y2="392.56" stroke="#000" stroke-width="0.8" />
<text transform="translate(291.70 394.86) scale(0.09593 0.10000)" font-size="64.0" text-anchor="end" fill="#231f20" stroke="#231f20" stroke-width="1.80" >−2</text>
<line x1="294.60" y1="404.12" x2="297.60" y2="404.12" stroke="#000" stroke-width="0.8" />
<text transform="translate(291.70 406.42) scale(0.09593 0.10000)" font-size="64.0" text-anchor="end" fill="#231f20" stroke="#231f20" stroke-width="1.80" >−4</text>
<line x1="297.30" y1="406.40" x2="297.30" y2="409.20" stroke="#000" stroke-width="0.8" />
<text transform="translate(297.30 416.80) scale(0.09861 0.10000)" font-size="62.0" text-anchor="middle" fill="#231f20" stroke="#231f20" stroke-width="1.80" >0</text>
<line x1="316.78" y1="406.40" x2="316.78" y2="409.20" stroke="#000" stroke-width="0.8" />
<text transform="translate(316.78 416.80) scale(0.10006 0.10000)" font-size="62.0" text-anchor="middle" fill="#231f20" stroke="#231f20" stroke-width="1.80" >2000</text>
<line x1="336.26" y1="406.40" x2="336.26" y2="409.20" stroke="#000" stroke-width="0.8" />
<text transform="translate(336.26 416.80) scale(0.10006 0.10000)" font-size="62.0" text-anchor="middle" fill="#231f20" stroke="#231f20" stroke-width="1.80" >4000</text>
<line x1="355.74" y1="406.40" x2="355.74" y2="409.20" stroke="#000" stroke-width="0.8" />
<text transform="translate(355.74 416.80) scale(0.10006 0.10000)" font-size="62.0" text-anchor="middle" fill="#231f20" stroke="#231f20" stroke-width="1.80" >6000</text>
<line x1="375.22" y1="406.40" x2="375.22" y2="409.20" stroke="#000" stroke-width="0.8" />
<text transform="translate(375.22 416.80) scale(0.10006 0.10000)" font-size="62.0" text-anchor="middle" fill="#231f20" stroke="#231f20" stroke-width="1.80" >8000</text>
<line x1="394.70" y1="406.40" x2="394.70" y2="409.20" stroke="#000" stroke-width="0.8" />
<text transform="translate(394.70 416.80) scale(0.10065 0.10000)" font-size="62.0" text-anchor="middle" fill="#231f20" stroke="#231f20" stroke-width="1.80" >10 000</text>
<line x1="414.18" y1="406.40" x2="414.18" y2="409.20" stroke="#000" stroke-width="0.8" />
<text transform="translate(414.18 416.80) scale(0.10065 0.10000)" font-size="62.0" text-anchor="middle" fill="#231f20" stroke="#231f20" stroke-width="1.80" >12 000</text>
<line x1="433.66" y1="406.40" x2="433.66" y2="409.20" stroke="#000" stroke-width="0.8" />
<text transform="translate(433.66 416.80) scale(0.10065 0.10000)" font-size="62.0" text-anchor="middle" fill="#231f20" stroke="#231f20" stroke-width="1.80" >14 000</text>
<line x1="453.14" y1="406.40" x2="453.14" y2="409.20" stroke="#000" stroke-width="0.8" />
<text transform="translate(453.14 416.80) scale(0.10065 0.10000)" font-size="62.0" text-anchor="middle" fill="#231f20" stroke="#231f20" stroke-width="1.80" >16 000</text>
<text transform="translate(377.00 429.00) scale(0.06875 0.10000)" font-size="92.0" text-anchor="middle" fill="#231f20" stroke="#231f20" stroke-width="4.00" >Rank in ordered dataset</text>
<text transform="translate(273.50 294.60) rotate(-90) scale(0.06915 0.10000)" font-size="92.0" text-anchor="middle" fill="#231f20" stroke="#231f20" stroke-width="4.00" >Enrichment score</text>
<text transform="translate(267.90 386.00) rotate(-90) scale(0.07058 0.10000)" font-size="92.0" text-anchor="middle" fill="#231f20" stroke="#231f20" stroke-width="4.00" >Ranked list metric</text>
<text transform="translate(278.80 386.00) rotate(-90) scale(0.06810 0.10000)" font-size="92.0" text-anchor="middle" fill="#231f20" stroke="#231f20" stroke-width="4.00" >(signal2noise)</text>
<text transform="translate(145.35 451.90) scale(0.09604 0.10000)" font-size="74.0" text-anchor="middle" fill="#000" font-weight="bold" stroke="#000" stroke-width="1.80" >Hallmark_oxidative_phosphorylation</text>
<line x1="65.20" y1="464.80" x2="225.50" y2="464.80" stroke="#acacac" stroke-width="0.85" stroke-dasharray="3.4 2.0"/>
<rect x="66.90" y="529.30" width="0.90" height="22.50" fill="#d8d8d8"/>
<rect x="72.90" y="529.30" width="1.80" height="22.50" fill="#b8b8b8"/>
<rect x="77.80" y="529.30" width="1.80" height="22.50" fill="#909090"/>
<rect x="81.90" y="529.30" width="3.70" height="22.50" fill="#d0d0d0"/>
<rect x="90.30" y="529.30" width="1.40" height="22.50" fill="#c0c0c0"/>
<rect x="92.00" y="529.30" width="1.20" height="22.50" fill="#e0e0e0"/>
<rect x="93.20" y="529.30" width="0.80" height="22.50" fill="#c0c0c0"/>
<rect x="96.90" y="529.30" width="1.20" height="22.50" fill="#c8c8c8"/>
<rect x="99.80" y="529.30" width="1.40" height="22.50" fill="#d0d0d0"/>
<rect x="103.00" y="529.30" width="1.70" height="22.50" fill="#8c8c8c"/>
<rect x="105.80" y="529.30" width="1.20" height="22.50" fill="#909090"/>
<rect x="107.00" y="529.30" width="4.00" height="22.50" fill="#d8d8d8"/>
<rect x="115.10" y="529.30" width="1.40" height="22.50" fill="#c8c8c8"/>
<rect x="116.50" y="529.30" width="0.90" height="22.50" fill="#b8b8b8"/>
<rect x="117.70" y="529.30" width="0.90" height="22.50" fill="#a0a0a0"/>
<rect x="121.80" y="529.30" width="1.40" height="22.50" fill="#707070"/>
<rect x="126.10" y="529.30" width="3.50" height="22.50" fill="#686868"/>
<rect x="129.60" y="529.30" width="1.40" height="22.50" fill="#a0a0a0"/>
<rect x="132.20" y="529.30" width="6.90" height="22.50" fill="#c0c0c0"/>
<rect x="139.10" y="529.30" width="1.10" height="22.50" fill="#e8e8e8"/>
<rect x="140.20" y="529.30" width="1.20" height="22.50" fill="#909090"/>
<rect x="141.40" y="529.30" width="0.90" height="22.50" fill="#e0e0e0"/>
<rect x="142.30" y="529.30" width="1.40" height="22.50" fill="#c0c0c0"/>
<rect x="143.70" y="529.30" width="1.40" height="22.50" fill="#505050"/>
<rect x="145.10" y="529.30" width="2.40" height="22.50" fill="#e0e0e0"/>
<rect x="150.10" y="529.30" width="2.60" height="22.50" fill="#707070"/>
<rect x="155.30" y="529.30" width="1.70" height="22.50" fill="#404040"/>
<rect x="157.00" y="529.30" width="1.50" height="22.50" fill="#f0f0f0"/>
<rect x="158.50" y="529.30" width="3.40" height="22.50" fill="#909090"/>
<rect x="161.90" y="529.30" width="2.30" height="22.50" fill="#f0f0f0"/>
<rect x="164.20" y="529.30" width="1.50" height="22.50" fill="#b0b0b0"/>
<rect x="165.70" y="529.30" width="2.60" height="22.50" fill="#686868"/>
<rect x="168.30" y="529.30" width="0.90" height="22.50" fill="#d0d0d0"/>
<rect x="169.20" y="529.30" width="2.30" height="22.50" fill="#606060"/>
<rect x="171.50" y="529.30" width="1.10" height="22.50" fill="#c0c0c0"/>
<rect x="172.60" y="529.30" width="2.30" height="22.50" fill="#989898"/>
<rect x="174.90" y="529.30" width="1.20" height="22.50" fill="#f0f0f0"/>
<rect x="176.10" y="529.30" width="3.70" height="22.50" fill="#888888"/>
<rect x="181.00" y="529.30" width="2.00" height="22.50" fill="#505050"/>
<rect x="183.00" y="529.30" width="4.00" height="22.50" fill="#909090"/>
<rect x="187.00" y="529.30" width="1.80" height="22.50" fill="#707070"/>
<rect x="188.80" y="529.30" width="2.90" height="22.50" fill="#303030"/>
<rect x="191.70" y="529.30" width="1.10" height="22.50" fill="#e8e8e8"/>
<rect x="192.80" y="529.30" width="2.30" height="22.50" fill="#404040"/>
<rect x="195.10" y="529.30" width="2.60" height="22.50" fill="#b0b0b0"/>
<rect x="197.70" y="529.30" width="2.10" height="22.50" fill="#e8e8e8"/>
<rect x="199.80" y="529.30" width="2.50" height="22.50" fill="#505050"/>
<rect x="202.30" y="529.30" width="1.80" height="22.50" fill="#202020"/>
<rect x="204.10" y="529.30" width="1.10" height="22.50" fill="#c8c8c8"/>
<rect x="205.20" y="529.30" width="5.80" height="22.50" fill="#888888"/>
<rect x="211.00" y="529.30" width="2.30" height="22.50" fill="#d8d8d8"/>
<rect x="213.30" y="529.30" width="2.30" height="22.50" fill="#505050"/>
<rect x="215.60" y="529.30" width="2.30" height="22.50" fill="#909090"/>
<rect x="217.90" y="529.30" width="1.20" height="22.50" fill="#e0e0e0"/>
<rect x="219.10" y="529.30" width="2.30" height="22.50" fill="#a0a0a0"/>
<rect x="65.20" y="551.80" width="1.45" height="6.10" fill="#f63c42"/>
<rect x="66.60" y="551.80" width="31.95" height="6.10" fill="#f05a5f"/>
<rect x="98.50" y="551.80" width="15.65" height="6.10" fill="#f06c80"/>
<rect x="114.10" y="551.80" width="17.75" height="6.10" fill="#f28787"/>
<rect x="131.80" y="551.80" width="20.15" height="6.10" fill="#f5c0d7"/>
<rect x="151.90" y="551.80" width="16.75" height="6.10" fill="#d8d4ec"/>
<rect x="168.60" y="551.80" width="14.25" height="6.10" fill="#c6bfe2"/>
<rect x="182.80" y="551.80" width="12.75" height="6.10" fill="#8080c0"/>
<rect x="195.50" y="551.80" width="24.45" height="6.10" fill="#635eaa"/>
<rect x="219.90" y="551.80" width="4.25" height="6.10" fill="#3c4696"/>
<rect x="224.10" y="551.80" width="1.45" height="6.10" fill="#4a3a98"/>
<path d="M65.20,580.90 L65.20,567.88 L65.84,569.06 L66.80,570.72 L68.41,572.49 L70.81,574.03 L74.82,575.39 L81.23,576.52 L89.25,577.23 L97.26,577.76 L113.29,578.47 L129.32,579.12 L145.35,580.07 L151.60,580.90 L161.38,581.61 L177.41,582.56 L195.04,583.98 L208.51,585.40 L215.24,586.46 L219.89,588.12 L221.97,589.90 L223.90,592.62 L225.50,594.22 L225.50,580.90 Z" fill="#c0c0c0"/>
<line x1="65.20" y1="581.10" x2="225.50" y2="581.10" stroke="#c4c4c4" stroke-width="1.7" />
<line x1="151.50" y1="560.10" x2="151.50" y2="606.40" stroke="#cccccc" stroke-width="0.8" stroke-dasharray="4.8 4"/>
<text transform="translate(68.70 565.70) scale(0.09396 0.10000)" font-size="68.0" text-anchor="start" fill="#ec3e48" stroke="#ec3e48" stroke-width="0.80" >‘PBMC’</text>
<text transform="translate(68.70 573.50) scale(0.09517 0.10000)" font-size="68.0" text-anchor="start" fill="#ec3e48" stroke="#ec3e48" stroke-width="0.80" >(positively correlated)</text>
<text transform="translate(222.60 595.40) scale(0.09129 0.10000)" font-size="68.0" text-anchor="end" fill="#5064b6" stroke="#5064b6" stroke-width="0.80" >‘Isolated’</text>
<text transform="translate(222.60 603.50) scale(0.09172 0.10000)" font-size="68.0" text-anchor="end" fill="#5064b6" stroke="#5064b6" stroke-width="0.80" >(negatively correlated)</text>
<polyline points="65.70,460.50 66.60,461.10 67.80,459.30 69.80,460.80 72.70,464.20 74.40,462.20 75.80,463.40 78.10,465.70 79.30,463.70 81.30,465.40 83.00,465.70 85.60,465.70 88.20,468.00 90.50,470.00 92.00,470.70 94.30,471.80 97.20,474.40 100.70,476.40 103.00,478.20 104.40,477.50 106.40,478.70 108.20,478.40 109.00,479.30 109.60,478.70 111.60,480.50 115.10,483.60 118.00,485.70 120.00,487.20 122.30,488.30 123.80,489.20 125.80,491.20 128.10,491.80 130.70,492.40 133.30,494.40 136.70,497.00 140.20,499.60 143.70,502.50 147.10,505.10 149.70,507.40 151.50,509.50 154.90,513.00 158.40,515.90 161.80,517.90 164.20,519.60 167.00,520.50 169.90,522.20 173.40,523.70 174.50,523.40 176.30,524.50 177.70,523.90 179.50,523.60 181.20,524.10 182.90,522.60 186.10,521.80 188.40,519.80 190.40,516.60 191.60,512.30 193.30,511.40 194.50,506.50 196.20,505.40 198.20,504.20 199.70,505.10 201.40,502.20 202.50,499.60 203.90,494.70 205.00,494.30 206.40,488.80 207.40,487.70 209.10,483.60 210.50,478.30 212.60,477.30 214.00,476.60 214.70,473.50 215.80,471.40 216.80,466.80 218.20,464.70 219.90,464.40 220.30,462.00 221.70,460.40 223.40,462.00 225.20,464.10" fill="none" stroke="#62c04e" stroke-width="0.95" stroke-linejoin="round" />
<text transform="translate(70.30 512.40) scale(0.10000 0.10000)" font-size="69.0" text-anchor="start" fill="#231f20" stroke="#231f20" stroke-width="1.80" >NES:</text>
<text transform="translate(130.20 512.40) scale(0.10000 0.10000)" font-size="69.0" text-anchor="end" fill="#231f20" stroke="#231f20" stroke-width="1.80" >−1.829</text>
<text transform="translate(70.30 521.00) scale(0.10013 0.10000)" font-size="69.0" text-anchor="start" fill="#231f20" stroke="#231f20" stroke-width="1.80" >FDR q-value: 0.027</text>
<rect x="65.20" y="455.60" width="160.30" height="150.80" fill="none" stroke="#000" stroke-width="1.2"/>
<line x1="62.20" y1="456.80" x2="65.20" y2="456.80" stroke="#000" stroke-width="0.8" />
<text transform="translate(60.20 459.10) scale(0.10197 0.10000)" font-size="64.0" text-anchor="end" fill="#231f20" stroke="#231f20" stroke-width="1.80" >0.05</text>
<line x1="62.20" y1="464.80" x2="65.20" y2="464.80" stroke="#000" stroke-width="0.8" />
<text transform="translate(60.20 467.10) scale(0.10197 0.10000)" font-size="64.0" text-anchor="end" fill="#231f20" stroke="#231f20" stroke-width="1.80" >0.00</text>
<line x1="62.20" y1="472.80" x2="65.20" y2="472.80" stroke="#000" stroke-width="0.8" />
<text transform="translate(60.20 475.10) scale(0.09943 0.10000)" font-size="64.0" text-anchor="end" fill="#231f20" stroke="#231f20" stroke-width="1.80" >−0.05</text>
<line x1="62.20" y1="480.80" x2="65.20" y2="480.80" stroke="#000" stroke-width="0.8" />
<text transform="translate(60.20 483.10) scale(0.09943 0.10000)" font-size="64.0" text-anchor="end" fill="#231f20" stroke="#231f20" stroke-width="1.80" >−0.10</text>
<line x1="62.20" y1="488.80" x2="65.20" y2="488.80" stroke="#000" stroke-width="0.8" />
<text transform="translate(60.20 491.10) scale(0.09943 0.10000)" font-size="64.0" text-anchor="end" fill="#231f20" stroke="#231f20" stroke-width="1.80" >−0.15</text>
<line x1="62.20" y1="496.80" x2="65.20" y2="496.80" stroke="#000" stroke-width="0.8" />
<text transform="translate(60.20 499.10) scale(0.09943 0.10000)" font-size="64.0" text-anchor="end" fill="#231f20" stroke="#231f20" stroke-width="1.80" >−0.20</text>
<line x1="62.20" y1="504.80" x2="65.20" y2="504.80" stroke="#000" stroke-width="0.8" />
<text transform="translate(60.20 507.10) scale(0.09943 0.10000)" font-size="64.0" text-anchor="end" fill="#231f20" stroke="#231f20" stroke-width="1.80" >−0.25</text>
<line x1="62.20" y1="512.80" x2="65.20" y2="512.80" stroke="#000" stroke-width="0.8" />
<text transform="translate(60.20 515.10) scale(0.09943 0.10000)" font-size="64.0" text-anchor="end" fill="#231f20" stroke="#231f20" stroke-width="1.80" >−0.30</text>
<line x1="62.20" y1="520.80" x2="65.20" y2="520.80" stroke="#000" stroke-width="0.8" />
<text transform="translate(60.20 523.10) scale(0.09943 0.10000)" font-size="64.0" text-anchor="end" fill="#231f20" stroke="#231f20" stroke-width="1.80" >−0.35</text>
<line x1="62.20" y1="569.06" x2="65.20" y2="569.06" stroke="#000" stroke-width="0.8" />
<text transform="translate(60.20 571.36) scale(0.09553 0.10000)" font-size="64.0" text-anchor="end" fill="#231f20" stroke="#231f20" stroke-width="1.80" >2</text>
<line x1="62.20" y1="580.90" x2="65.20" y2="580.90" stroke="#000" stroke-width="0.8" />
<text transform="translate(60.20 583.20) scale(0.09553 0.10000)" font-size="64.0" text-anchor="end" fill="#231f20" stroke="#231f20" stroke-width="1.80" >0</text>
<line x1="62.20" y1="592.74" x2="65.20" y2="592.74" stroke="#000" stroke-width="0.8" />
<text transform="translate(60.20 595.04) scale(0.09593 0.10000)" font-size="64.0" text-anchor="end" fill="#231f20" stroke="#231f20" stroke-width="1.80" >−2</text>
<line x1="62.20" y1="604.58" x2="65.20" y2="604.58" stroke="#000" stroke-width="0.8" />
<text transform="translate(60.20 606.88) scale(0.09593 0.10000)" font-size="64.0" text-anchor="end" fill="#231f20" stroke="#231f20" stroke-width="1.80" >−4</text>
<line x1="65.50" y1="606.40" x2="65.50" y2="609.20" stroke="#000" stroke-width="0.8" />
<text transform="translate(65.50 616.80) scale(0.09861 0.10000)" font-size="62.0" text-anchor="middle" fill="#231f20" stroke="#231f20" stroke-width="1.80" >0</text>
<line x1="85.10" y1="606.40" x2="85.10" y2="609.20" stroke="#000" stroke-width="0.8" />
<text transform="translate(85.10 616.80) scale(0.10006 0.10000)" font-size="62.0" text-anchor="middle" fill="#231f20" stroke="#231f20" stroke-width="1.80" >2000</text>
<line x1="104.70" y1="606.40" x2="104.70" y2="609.20" stroke="#000" stroke-width="0.8" />
<text transform="translate(104.70 616.80) scale(0.10006 0.10000)" font-size="62.0" text-anchor="middle" fill="#231f20" stroke="#231f20" stroke-width="1.80" >4000</text>
<line x1="124.30" y1="606.40" x2="124.30" y2="609.20" stroke="#000" stroke-width="0.8" />
<text transform="translate(124.30 616.80) scale(0.10006 0.10000)" font-size="62.0" text-anchor="middle" fill="#231f20" stroke="#231f20" stroke-width="1.80" >6000</text>
<line x1="143.90" y1="606.40" x2="143.90" y2="609.20" stroke="#000" stroke-width="0.8" />
<text transform="translate(143.90 616.80) scale(0.10006 0.10000)" font-size="62.0" text-anchor="middle" fill="#231f20" stroke="#231f20" stroke-width="1.80" >8000</text>
<line x1="163.50" y1="606.40" x2="163.50" y2="609.20" stroke="#000" stroke-width="0.8" />
<text transform="translate(163.50 616.80) scale(0.10065 0.10000)" font-size="62.0" text-anchor="middle" fill="#231f20" stroke="#231f20" stroke-width="1.80" >10 000</text>
<line x1="183.10" y1="606.40" x2="183.10" y2="609.20" stroke="#000" stroke-width="0.8" />
<text transform="translate(183.10 616.80) scale(0.10065 0.10000)" font-size="62.0" text-anchor="middle" fill="#231f20" stroke="#231f20" stroke-width="1.80" >12 000</text>
<line x1="202.70" y1="606.40" x2="202.70" y2="609.20" stroke="#000" stroke-width="0.8" />
<text transform="translate(202.70 616.80) scale(0.10065 0.10000)" font-size="62.0" text-anchor="middle" fill="#231f20" stroke="#231f20" stroke-width="1.80" >14 000</text>
<line x1="222.30" y1="606.40" x2="222.30" y2="609.20" stroke="#000" stroke-width="0.8" />
<text transform="translate(222.30 616.80) scale(0.10065 0.10000)" font-size="62.0" text-anchor="middle" fill="#231f20" stroke="#231f20" stroke-width="1.80" >16 000</text>
<text transform="translate(145.35 628.20) scale(0.06875 0.10000)" font-size="92.0" text-anchor="middle" fill="#231f20" stroke="#231f20" stroke-width="4.00" >Rank in ordered dataset</text>
<text transform="translate(40.10 490.50) rotate(-90) scale(0.06915 0.10000)" font-size="92.0" text-anchor="middle" fill="#231f20" stroke="#231f20" stroke-width="4.00" >Enrichment score</text>
<text transform="translate(32.60 581.20) rotate(-90) scale(0.07058 0.10000)" font-size="92.0" text-anchor="middle" fill="#231f20" stroke="#231f20" stroke-width="4.00" >Ranked list metric</text>
<text transform="translate(43.60 581.20) rotate(-90) scale(0.06810 0.10000)" font-size="92.0" text-anchor="middle" fill="#231f20" stroke="#231f20" stroke-width="4.00" >(signal2noise)</text>
<text transform="translate(376.60 452.40) scale(0.10076 0.10000)" font-size="74.0" text-anchor="middle" fill="#000" font-weight="bold" stroke="#000" stroke-width="1.80" >Hallmark_glycolysis</text>
<line x1="296.70" y1="473.40" x2="456.50" y2="473.40" stroke="#acacac" stroke-width="0.85" stroke-dasharray="3.4 2.0"/>
<rect x="299.20" y="529.30" width="3.70" height="22.50" fill="#848484"/>
<rect x="305.80" y="529.30" width="1.70" height="22.50" fill="#a8a8a8"/>
<rect x="309.80" y="529.30" width="2.10" height="22.50" fill="#c0c0c0"/>
<rect x="315.00" y="529.30" width="2.60" height="22.50" fill="#909090"/>
<rect x="319.70" y="529.30" width="2.00" height="22.50" fill="#b8b8b8"/>
<rect x="321.70" y="529.30" width="1.10" height="22.50" fill="#505050"/>
<rect x="323.70" y="529.30" width="1.20" height="22.50" fill="#e0e0e0"/>
<rect x="324.90" y="529.30" width="0.30" height="22.50" fill="#c8c8c8"/>
<rect x="326.90" y="529.30" width="1.10" height="22.50" fill="#c0c0c0"/>
<rect x="328.00" y="529.30" width="1.80" height="22.50" fill="#e0e0e0"/>
<rect x="329.80" y="529.30" width="1.70" height="22.50" fill="#a0a0a0"/>
<rect x="332.90" y="529.30" width="1.20" height="22.50" fill="#b0b0b0"/>
<rect x="334.10" y="529.30" width="0.90" height="22.50" fill="#f0f0f0"/>
<rect x="335.00" y="529.30" width="1.70" height="22.50" fill="#808080"/>
<rect x="336.70" y="529.30" width="2.30" height="22.50" fill="#d0d0d0"/>
<rect x="339.00" y="529.30" width="2.00" height="22.50" fill="#707070"/>
<rect x="341.00" y="529.30" width="2.60" height="22.50" fill="#e8e8e8"/>
<rect x="343.60" y="529.30" width="2.00" height="22.50" fill="#808080"/>
<rect x="345.60" y="529.30" width="1.20" height="22.50" fill="#d0d0d0"/>
<rect x="348.20" y="529.30" width="2.90" height="22.50" fill="#d8d8d8"/>
<rect x="351.10" y="529.30" width="1.50" height="22.50" fill="#e0e0e0"/>
<rect x="352.60" y="529.30" width="1.10" height="22.50" fill="#c8c8c8"/>
<rect x="358.30" y="529.30" width="1.80" height="22.50" fill="#909090"/>
<rect x="360.10" y="529.30" width="1.10" height="22.50" fill="#c0c0c0"/>
<rect x="361.20" y="529.30" width="1.50" height="22.50" fill="#a0a0a0"/>
<rect x="363.80" y="529.30" width="1.20" height="22.50" fill="#c0c0c0"/>
<rect x="367.60" y="529.30" width="1.70" height="22.50" fill="#383838"/>
<rect x="369.30" y="529.30" width="2.30" height="22.50" fill="#c8c8c8"/>
<rect x="371.60" y="529.30" width="2.00" height="22.50" fill="#808080"/>
<rect x="373.60" y="529.30" width="1.50" height="22.50" fill="#e8e8e8"/>
<rect x="375.10" y="529.30" width="2.00" height="22.50" fill="#505050"/>
<rect x="378.00" y="529.30" width="1.10" height="22.50" fill="#b0b0b0"/>
<rect x="382.90" y="529.30" width="2.30" height="22.50" fill="#787878"/>
<rect x="385.20" y="529.30" width="0.60" height="22.50" fill="#d0d0d0"/>
<rect x="385.80" y="529.30" width="1.10" height="22.50" fill="#808080"/>
<rect x="386.90" y="529.30" width="2.60" height="22.50" fill="#d8d8d8"/>
<rect x="389.50" y="529.30" width="1.50" height="22.50" fill="#303030"/>
<rect x="391.00" y="529.30" width="2.80" height="22.50" fill="#c8c8c8"/>
<rect x="393.80" y="529.30" width="2.10" height="22.50" fill="#989898"/>
<rect x="396.70" y="529.30" width="1.50" height="22.50" fill="#707070"/>
<rect x="398.20" y="529.30" width="1.70" height="22.50" fill="#e0e0e0"/>
<rect x="399.90" y="529.30" width="2.30" height="22.50" fill="#a0a0a0"/>
<rect x="404.80" y="529.30" width="2.00" height="22.50" fill="#909090"/>
<rect x="408.00" y="529.30" width="1.20" height="22.50" fill="#a8a8a8"/>
<rect x="409.20" y="529.30" width="1.10" height="22.50" fill="#e8e8e8"/>
<rect x="410.30" y="529.30" width="2.60" height="22.50" fill="#a0a0a0"/>
<rect x="412.90" y="529.30" width="1.20" height="22.50" fill="#404040"/>
<rect x="414.10" y="529.30" width="2.30" height="22.50" fill="#c0c0c0"/>
<rect x="416.40" y="529.30" width="1.70" height="22.50" fill="#606060"/>
<rect x="418.10" y="529.30" width="1.40" height="22.50" fill="#b0b0b0"/>
<rect x="419.50" y="529.30" width="1.80" height="22.50" fill="#f0f0f0"/>
<rect x="421.30" y="529.30" width="2.60" height="22.50" fill="#303030"/>
<rect x="425.90" y="529.30" width="1.10" height="22.50" fill="#808080"/>
<rect x="427.00" y="529.30" width="2.90" height="22.50" fill="#e0e0e0"/>
<rect x="429.90" y="529.30" width="1.30" height="22.50" fill="#505050"/>
<rect x="431.20" y="529.30" width="2.60" height="22.50" fill="#b0b0b0"/>
<rect x="433.80" y="529.30" width="1.10" height="22.50" fill="#808080"/>
<rect x="434.90" y="529.30" width="2.30" height="22.50" fill="#c8c8c8"/>
<rect x="438.10" y="529.30" width="1.10" height="22.50" fill="#707070"/>
<rect x="439.20" y="529.30" width="2.60" height="22.50" fill="#e0e0e0"/>
<rect x="441.80" y="529.30" width="1.20" height="22.50" fill="#404040"/>
<rect x="443.00" y="529.30" width="2.00" height="22.50" fill="#e0e0e0"/>
<rect x="445.00" y="529.30" width="2.00" height="22.50" fill="#707070"/>
<rect x="447.00" y="529.30" width="3.50" height="22.50" fill="#a0a0a0"/>
<rect x="450.50" y="529.30" width="1.40" height="22.50" fill="#404040"/>
<rect x="451.90" y="529.30" width="3.80" height="22.50" fill="#d0d0d0"/>
<rect x="296.70" y="551.80" width="1.35" height="6.10" fill="#f63c42"/>
<rect x="298.00" y="551.80" width="32.15" height="6.10" fill="#f05a5f"/>
<rect x="330.10" y="551.80" width="15.55" height="6.10" fill="#f06c80"/>
<rect x="345.60" y="551.80" width="17.45" height="6.10" fill="#f28787"/>
<rect x="363.00" y="551.80" width="20.25" height="6.10" fill="#f5c0d7"/>
<rect x="383.20" y="551.80" width="16.45" height="6.10" fill="#d8d4ec"/>
<rect x="399.60" y="551.80" width="14.25" height="6.10" fill="#c6bfe2"/>
<rect x="413.80" y="551.80" width="12.15" height="6.10" fill="#8080c0"/>
<rect x="425.90" y="551.80" width="24.65" height="6.10" fill="#635eaa"/>
<rect x="450.50" y="551.80" width="4.65" height="6.10" fill="#3c4696"/>
<rect x="455.10" y="551.80" width="1.45" height="6.10" fill="#4a3a98"/>
<path d="M296.70,580.60 L296.70,567.51 L297.34,568.70 L298.30,570.37 L299.90,572.15 L302.29,573.70 L306.29,575.07 L312.68,576.20 L320.67,576.91 L328.66,577.45 L344.64,578.16 L360.62,578.82 L376.60,579.77 L382.83,580.60 L392.58,581.31 L408.56,582.27 L426.14,583.69 L439.56,585.12 L446.27,586.19 L450.91,587.86 L452.98,589.64 L454.90,592.38 L456.50,593.99 L456.50,580.60 Z" fill="#c0c0c0"/>
<line x1="296.70" y1="580.80" x2="456.50" y2="580.80" stroke="#c4c4c4" stroke-width="1.7" />
<line x1="382.80" y1="560.10" x2="382.80" y2="606.20" stroke="#cccccc" stroke-width="0.8" stroke-dasharray="4.8 4"/>
<text transform="translate(299.80 566.10) scale(0.09529 0.10000)" font-size="68.0" text-anchor="start" fill="#ec3e48" stroke="#ec3e48" stroke-width="0.80" >‘PBMC’</text>
<text transform="translate(299.80 573.80) scale(0.09285 0.10000)" font-size="68.0" text-anchor="start" fill="#ec3e48" stroke="#ec3e48" stroke-width="0.80" >(positively correlated)</text>
<text transform="translate(452.40 595.50) scale(0.08868 0.10000)" font-size="68.0" text-anchor="end" fill="#5064b6" stroke="#5064b6" stroke-width="0.80" >‘Isolated’</text>
<text transform="translate(452.40 603.50) scale(0.09306 0.10000)" font-size="68.0" text-anchor="end" fill="#5064b6" stroke="#5064b6" stroke-width="0.80" >(negatively correlated)</text>
<polyline points="297.30,474.00 299.00,475.20 299.90,470.60 300.80,467.10 301.90,462.50 303.10,459.30 305.70,462.20 307.40,460.50 310.60,463.40 311.70,461.60 315.20,465.10 317.20,462.50 319.20,464.20 321.50,465.40 322.70,462.40 324.70,463.20 327.00,465.20 329.30,465.80 331.70,466.70 334.50,468.70 336.60,468.30 339.40,470.10 340.90,469.30 343.50,471.00 345.80,470.70 348.40,473.00 351.00,475.20 353.30,476.30 355.60,478.60 357.90,481.20 360.20,482.40 362.50,484.10 364.80,486.40 367.20,489.00 368.90,489.30 371.20,490.80 374.10,493.40 377.00,496.20 379.00,498.30 382.50,501.80 385.90,505.20 389.40,508.40 392.80,511.30 396.30,514.20 399.80,517.10 402.70,518.50 405.00,520.80 406.40,521.10 408.50,522.50 410.80,524.30 412.50,524.40 413.90,522.80 416.30,523.70 418.30,521.70 420.00,521.40 421.70,522.50 422.90,519.40 423.80,516.80 425.50,518.20 426.90,517.60 429.80,517.90 431.50,515.30 433.40,514.40 434.70,512.10 436.00,511.50 438.10,512.70 439.00,510.20 441.50,511.70 443.20,506.30 445.30,507.20 446.60,500.80 448.30,495.70 450.50,488.00 452.20,481.20 453.00,479.50 454.70,476.90 455.60,473.50" fill="none" stroke="#62c04e" stroke-width="0.95" stroke-linejoin="round" />
<text transform="translate(302.80 514.40) scale(0.10000 0.10000)" font-size="69.0" text-anchor="start" fill="#231f20" stroke="#231f20" stroke-width="1.80" >NES:</text>
<text transform="translate(361.00 514.40) scale(0.10000 0.10000)" font-size="69.0" text-anchor="end" fill="#231f20" stroke="#231f20" stroke-width="1.80" >−1.327</text>
<text transform="translate(302.80 522.80) scale(0.09728 0.10000)" font-size="69.0" text-anchor="start" fill="#231f20" stroke="#231f20" stroke-width="1.80" >FDR q-value: 0.251</text>
<rect x="296.70" y="455.90" width="159.80" height="150.30" fill="none" stroke="#000" stroke-width="1.2"/>
<line x1="293.70" y1="456.70" x2="296.70" y2="456.70" stroke="#000" stroke-width="0.8" />
<text transform="translate(291.40 459.00) scale(0.09956 0.10000)" font-size="64.0" text-anchor="end" fill="#231f20" stroke="#231f20" stroke-width="1.80" >0.10</text>
<line x1="293.70" y1="465.05" x2="296.70" y2="465.05" stroke="#000" stroke-width="0.8" />
<text transform="translate(291.40 467.35) scale(0.09956 0.10000)" font-size="64.0" text-anchor="end" fill="#231f20" stroke="#231f20" stroke-width="1.80" >0.05</text>
<line x1="293.70" y1="473.40" x2="296.70" y2="473.40" stroke="#000" stroke-width="0.8" />
<text transform="translate(291.40 475.70) scale(0.09956 0.10000)" font-size="64.0" text-anchor="end" fill="#231f20" stroke="#231f20" stroke-width="1.80" >0.00</text>
<line x1="293.70" y1="481.75" x2="296.70" y2="481.75" stroke="#000" stroke-width="0.8" />
<text transform="translate(291.40 484.05) scale(0.09943 0.10000)" font-size="64.0" text-anchor="end" fill="#231f20" stroke="#231f20" stroke-width="1.80" >−0.05</text>
<line x1="293.70" y1="490.10" x2="296.70" y2="490.10" stroke="#000" stroke-width="0.8" />
<text transform="translate(291.40 492.40) scale(0.09943 0.10000)" font-size="64.0" text-anchor="end" fill="#231f20" stroke="#231f20" stroke-width="1.80" >−0.10</text>
<line x1="293.70" y1="498.45" x2="296.70" y2="498.45" stroke="#000" stroke-width="0.8" />
<text transform="translate(291.40 500.75) scale(0.09943 0.10000)" font-size="64.0" text-anchor="end" fill="#231f20" stroke="#231f20" stroke-width="1.80" >−0.15</text>
<line x1="293.70" y1="506.80" x2="296.70" y2="506.80" stroke="#000" stroke-width="0.8" />
<text transform="translate(291.40 509.10) scale(0.09943 0.10000)" font-size="64.0" text-anchor="end" fill="#231f20" stroke="#231f20" stroke-width="1.80" >−0.20</text>
<line x1="293.70" y1="515.15" x2="296.70" y2="515.15" stroke="#000" stroke-width="0.8" />
<text transform="translate(291.40 517.45) scale(0.09943 0.10000)" font-size="64.0" text-anchor="end" fill="#231f20" stroke="#231f20" stroke-width="1.80" >−0.25</text>
<line x1="293.70" y1="523.50" x2="296.70" y2="523.50" stroke="#000" stroke-width="0.8" />
<text transform="translate(291.40 525.80) scale(0.09943 0.10000)" font-size="64.0" text-anchor="end" fill="#231f20" stroke="#231f20" stroke-width="1.80" >−0.30</text>
<line x1="293.70" y1="568.70" x2="296.70" y2="568.70" stroke="#000" stroke-width="0.8" />
<text transform="translate(291.40 571.00) scale(0.09553 0.10000)" font-size="64.0" text-anchor="end" fill="#231f20" stroke="#231f20" stroke-width="1.80" >2</text>
<line x1="293.70" y1="580.60" x2="296.70" y2="580.60" stroke="#000" stroke-width="0.8" />
<text transform="translate(291.40 582.90) scale(0.09553 0.10000)" font-size="64.0" text-anchor="end" fill="#231f20" stroke="#231f20" stroke-width="1.80" >0</text>
<line x1="293.70" y1="592.50" x2="296.70" y2="592.50" stroke="#000" stroke-width="0.8" />
<text transform="translate(291.40 594.80) scale(0.09593 0.10000)" font-size="64.0" text-anchor="end" fill="#231f20" stroke="#231f20" stroke-width="1.80" >−2</text>
<line x1="293.70" y1="604.40" x2="296.70" y2="604.40" stroke="#000" stroke-width="0.8" />
<text transform="translate(291.40 606.70) scale(0.09593 0.10000)" font-size="64.0" text-anchor="end" fill="#231f20" stroke="#231f20" stroke-width="1.80" >−4</text>
<line x1="296.50" y1="606.20" x2="296.50" y2="609.00" stroke="#000" stroke-width="0.8" />
<text transform="translate(296.50 616.90) scale(0.09861 0.10000)" font-size="62.0" text-anchor="middle" fill="#231f20" stroke="#231f20" stroke-width="1.80" >0</text>
<line x1="315.97" y1="606.20" x2="315.97" y2="609.00" stroke="#000" stroke-width="0.8" />
<text transform="translate(315.97 616.90) scale(0.10006 0.10000)" font-size="62.0" text-anchor="middle" fill="#231f20" stroke="#231f20" stroke-width="1.80" >2000</text>
<line x1="335.44" y1="606.20" x2="335.44" y2="609.00" stroke="#000" stroke-width="0.8" />
<text transform="translate(335.44 616.90) scale(0.10006 0.10000)" font-size="62.0" text-anchor="middle" fill="#231f20" stroke="#231f20" stroke-width="1.80" >4000</text>
<line x1="354.91" y1="606.20" x2="354.91" y2="609.00" stroke="#000" stroke-width="0.8" />
<text transform="translate(354.91 616.90) scale(0.10006 0.10000)" font-size="62.0" text-anchor="middle" fill="#231f20" stroke="#231f20" stroke-width="1.80" >6000</text>
<line x1="374.38" y1="606.20" x2="374.38" y2="609.00" stroke="#000" stroke-width="0.8" />
<text transform="translate(374.38 616.90) scale(0.10006 0.10000)" font-size="62.0" text-anchor="middle" fill="#231f20" stroke="#231f20" stroke-width="1.80" >8000</text>
<line x1="393.85" y1="606.20" x2="393.85" y2="609.00" stroke="#000" stroke-width="0.8" />
<text transform="translate(393.85 616.90) scale(0.10065 0.10000)" font-size="62.0" text-anchor="middle" fill="#231f20" stroke="#231f20" stroke-width="1.80" >10 000</text>
<line x1="413.32" y1="606.20" x2="413.32" y2="609.00" stroke="#000" stroke-width="0.8" />
<text transform="translate(413.32 616.90) scale(0.10065 0.10000)" font-size="62.0" text-anchor="middle" fill="#231f20" stroke="#231f20" stroke-width="1.80" >12 000</text>
<line x1="432.79" y1="606.20" x2="432.79" y2="609.00" stroke="#000" stroke-width="0.8" />
<text transform="translate(432.79 616.90) scale(0.10065 0.10000)" font-size="62.0" text-anchor="middle" fill="#231f20" stroke="#231f20" stroke-width="1.80" >14 000</text>
<line x1="452.26" y1="606.20" x2="452.26" y2="609.00" stroke="#000" stroke-width="0.8" />
<text transform="translate(452.26 616.90) scale(0.10065 0.10000)" font-size="62.0" text-anchor="middle" fill="#231f20" stroke="#231f20" stroke-width="1.80" >16 000</text>
<text transform="translate(376.60 628.10) scale(0.06875 0.10000)" font-size="92.0" text-anchor="middle" fill="#231f20" stroke="#231f20" stroke-width="4.00" >Rank in ordered dataset</text>
<text transform="translate(269.40 490.00) rotate(-90) scale(0.06915 0.10000)" font-size="92.0" text-anchor="middle" fill="#231f20" stroke="#231f20" stroke-width="4.00" >Enrichment score</text>
<text transform="translate(267.50 584.40) rotate(-90) scale(0.07058 0.10000)" font-size="92.0" text-anchor="middle" fill="#231f20" stroke="#231f20" stroke-width="4.00" >Ranked list metric</text>
<text transform="translate(278.50 584.40) rotate(-90) scale(0.06810 0.10000)" font-size="92.0" text-anchor="middle" fill="#231f20" stroke="#231f20" stroke-width="4.00" >(signal2noise)</text>
<line x1="159.00" y1="637.10" x2="166.80" y2="637.10" stroke="#62c04e" stroke-width="1.1" />
<text transform="translate(168.80 640.00) scale(0.10031 0.10000)" font-size="72.0" text-anchor="start" fill="#231f20" stroke="#231f20" stroke-width="1.80" >Enrichment profile</text>
<line x1="242.20" y1="637.10" x2="249.40" y2="637.10" stroke="#000" stroke-width="1.1" />
<text transform="translate(251.20 640.00) scale(0.10645 0.10000)" font-size="72.0" text-anchor="start" fill="#231f20" stroke="#231f20" stroke-width="1.80" >Hits</text>
<line x1="279.70" y1="637.10" x2="287.80" y2="637.10" stroke="#b4b4b4" stroke-width="1.1" />
<text transform="translate(290.40 640.00) scale(0.10039 0.10000)" font-size="72.0" text-anchor="start" fill="#231f20" stroke="#231f20" stroke-width="1.80" >Ranking metric scores</text>
<rect x="0.5" y="0.5" width="519" height="645" fill="none" stroke="#000" stroke-width="1.2"/>
</svg>
</body></html>
